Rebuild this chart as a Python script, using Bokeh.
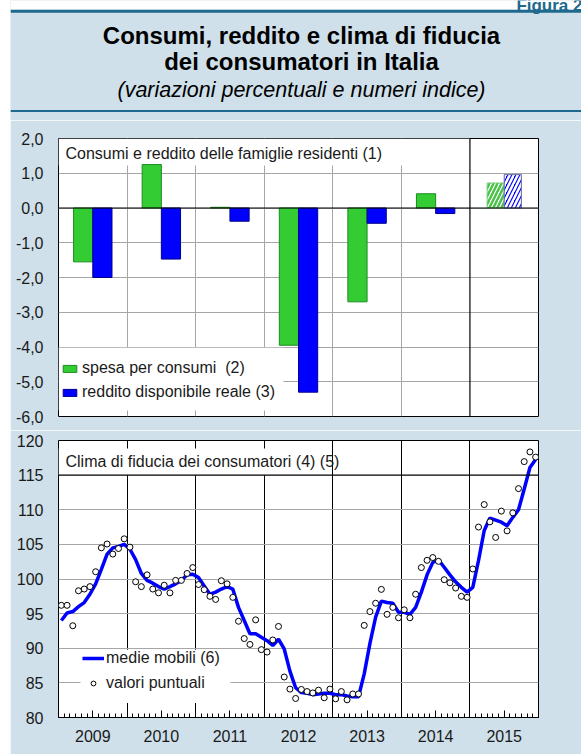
from bokeh.plotting import figure
from bokeh.models import FixedTicker, Label, Span, Legend, LegendItem, Grid, Spacer
from bokeh.layouts import column, row
from bokeh.embed import file_html
from bokeh.resources import INLINE

# ---------------- data ----------------
anni = ["2009", "2010", "2011", "2012", "2013", "2014", "2015"]
spesa = [-1.55, 1.25, 0.02, -3.95, -2.7, 0.41]          # spesa per consumi (2)
reddito = [-2.0, -1.47, -0.38, -5.3, -0.44, -0.16]      # reddito disponibile reale (3)
spesa_2015 = [0.72]
reddito_2015 = [0.96]
top_ticks = [-6, -5, -4, -3, -2, -1, 0, 1, 2]
top_tick_labels = ["-6,0", "-5,0", "-4,0", "-3,0", "-2,0", "-1,0", "0,0", "1,0", "2,0"]

valori_puntuali = [
    96.2, 96.2, 93.25, 98.3, 98.55, 98.9, 101.05, 104.5, 105.05, 103.6, 104.4, 105.8,
    104.6, 99.6, 98.9, 100.6, 98.55, 98.0, 99.1, 98.0, 99.8, 99.8, 100.8, 101.65,
    99.2, 98.45, 97.5, 97.05, 99.75, 99.3, 97.35, 93.9, 91.4, 90.55, 94.1, 89.8,
    89.45, 91.2, 93.15, 85.85, 84.1, 82.75, 84.05, 83.75, 83.55, 83.95, 82.85, 84.1,
    82.7, 83.75, 82.55, 83.4, 83.4, 93.3, 95.3, 96.5, 98.5, 94.9, 95.9, 94.4,
    95.55, 94.4, 97.8, 101.65, 102.7, 103.1, 102.55, 99.9, 99.45, 98.7, 97.5, 97.35,
    101.45, 107.5, 110.75, 108.25, 106.0, 109.8, 106.95, 109.55, 113.05, 116.95, 118.35, 117.6]
medie_mobili = [
    94.0, 95.1, 95.3, 96.0, 96.6, 97.8, 99.3, 101.4, 103.6, 104.5, 104.7, 105.0,
    104.3, 102.8, 100.8, 99.8, 99.4, 98.9, 98.55, 98.9, 99.3, 99.8, 100.6, 100.7,
    100.2, 99.0, 97.8, 98.1, 98.55, 98.9, 98.55, 95.9, 94.0, 92.1, 92.1, 91.6,
    91.1, 90.4, 91.3, 89.9, 86.7, 84.3, 83.6, 83.5, 83.3, 83.4, 83.5, 83.5,
    83.3, 83.3, 83.1, 83.0, 83.0, 86.3, 90.7, 94.5, 96.8, 96.6, 96.5, 95.2,
    95.2, 94.9, 95.9, 98.1, 100.6, 102.4, 102.75, 101.7, 100.6, 99.6, 98.8, 98.1,
    98.8, 102.65, 107.0, 108.8, 108.5, 108.2, 107.7, 108.9, 110.0, 113.0, 116.1, 117.25]
bot_ticks = [80, 85, 90, 95, 100, 105, 110, 115, 120]

# ---------------- style ----------------
BG = "#cfe0ea"
TEAL = "#1d6a8e"
FONT = "Liberation Sans"
TXT = "#1a1a1a"
GREEN = "#33cc33"
BLUE = "#0000ff"
GRID = "#a6a6a6"
W = 571          # figures start 10px from the left edge (white strip)
HH = 120

# ---------------- header ----------------
h = figure(width=W, height=HH, x_range=(0, W), y_range=(0, HH), output_backend="svg", title=None,
           toolbar_location=None, x_axis_type=None, y_axis_type=None, min_border=0)
h.grid.visible = False
h.outline_line_color = None
h.background_fill_color = BG
h.border_fill_color = BG
h.quad(left=0, right=W, bottom=110.7, top=HH, fill_color="white", line_color=None)
h.quad(left=0, right=W, bottom=107.7, top=110.7, fill_color=TEAL, line_color=None)
h.quad(left=0, right=W, bottom=8.6, top=10.6, fill_color=TEAL, line_color=None)
h.add_layout(Label(x=W + 1, y=HH - 5, text="Figura 2", text_align="right", text_baseline="alphabetic",
                   text_font=FONT, text_font_size="17px", text_font_style="bold", text_color=TEAL))
for txt, mid, size, style in [
    ("Consumi, reddito e clima di fiducia", 35, "24px", "bold"),
    ("dei consumatori in Italia", 61, "24px", "bold"),
    ("(variazioni percentuali e numeri indice)", 89, "21.5px", "italic"),
]:
    h.add_layout(Label(x=291, y=HH - mid, text=txt, text_align="center", text_baseline="middle",
                       text_font=FONT, text_font_size=size, text_font_style=style, text_color="black"))

# ---------------- top panel ----------------
p1 = figure(width=W, height=310, x_range=(0, 7), y_range=(-6, 2), output_backend="svg", title=None,
            toolbar_location=None, x_axis_type=None, min_border_left=48, min_border_right=43,
            min_border_top=18, min_border_bottom=14)
p1.background_fill_color = "white"
p1.border_fill_color = BG
p1.outline_line_color = "black"
p1.yaxis.ticker = FixedTicker(ticks=top_ticks)
p1.yaxis.major_label_overrides = {t: l for t, l in zip(top_ticks, top_tick_labels)}
p1.yaxis.major_tick_in = 0
p1.yaxis.major_tick_out = 0
p1.yaxis.minor_tick_in = 0
p1.yaxis.minor_tick_out = 0
p1.yaxis.axis_line_color = None
p1.yaxis.major_label_standoff = 15
p1.yaxis.major_label_text_font = FONT
p1.yaxis.major_label_text_font_size = "16px"
p1.yaxis.major_label_text_color = TXT
p1.ygrid.ticker = FixedTicker(ticks=top_ticks)
p1.ygrid.grid_line_color = GRID
p1.add_layout(Grid(dimension=0, ticker=FixedTicker(ticks=[1, 2, 3, 4, 5]), grid_line_color=GRID))

# white boxes behind the panel title and the legend
p1.quad(left=0, right=6, bottom=1.22, top=2, fill_color="white", line_color=None)
p1.quad(left=0, right=3.28, bottom=-5.83, top=-4.02, fill_color="white", line_color=None)

n = len(spesa)
xs_g = [i + 0.5 - 0.14 for i in range(n)]
xs_b = [i + 0.5 + 0.14 for i in range(n)]
rg = p1.vbar(x=xs_g, width=0.28, top=spesa, bottom=0, fill_color=GREEN, line_color="#1e8a1e", line_width=1)
rb = p1.vbar(x=xs_b, width=0.28, top=reddito, bottom=0, fill_color=BLUE, line_color="#00008b", line_width=1)
p1.vbar(x=[n + 0.5 - 0.125], width=0.25, top=spesa_2015, bottom=0, fill_color="white",
        hatch_pattern="/", hatch_color="#4cc24c", hatch_weight=2.5, hatch_scale=8, line_color="#7fcf7f")
p1.vbar(x=[n + 0.5 + 0.125], width=0.25, top=reddito_2015, bottom=0, fill_color=BLUE,
        hatch_pattern="/", hatch_color="white", hatch_weight=2.5, hatch_scale=8, line_color="#6a6aa8")

p1.add_layout(Span(location=0, dimension="width", line_color="black", line_width=1.2))
p1.add_layout(Span(location=6, dimension="height", line_color="black", line_width=1.2))

p1.add_layout(Label(x=0.102, y=1.568, text="Consumi e reddito delle famiglie residenti (1)",
                    text_font=FONT, text_font_size="16px", text_color=TXT, text_baseline="middle"))

leg1 = Legend(items=[LegendItem(label="spesa per consumi  (2)", renderers=[rg]),
                     LegendItem(label="reddito disponibile reale (3)", renderers=[rb])],
              location=(3, 12), margin=0, padding=0, spacing=0, label_height=24,
              glyph_width=17, glyph_height=9, label_standoff=4,
              label_text_font=FONT, label_text_font_size="16px", label_text_color=TXT,
              background_fill_alpha=0, border_line_color=None)
p1.add_layout(leg1)

for t, l in zip(top_ticks, top_tick_labels):
    p1.add_layout(Label(x=7 + 41 / 68.57, y=t, text=l, text_align="right", text_baseline="middle",
                        text_font=FONT, text_font_size="16px", text_color=TXT))

# ---------------- bottom panel ----------------
nm = len(valori_puntuali)
mesi = [i + 0.5 for i in range(nm)]
p2 = figure(width=W, height=324, x_range=(0, nm), y_range=(80, 120), output_backend="svg", title=None,
            toolbar_location=None, min_border_left=48, min_border_right=43,
            min_border_top=10, min_border_bottom=37)
p2.background_fill_color = "white"
p2.border_fill_color = BG
p2.outline_line_color = "black"

year_mid = [12 * k + 6 for k in range(len(anni))]
p2.xaxis.ticker = FixedTicker(ticks=year_mid, minor_ticks=list(range(0, nm + 1)))
p2.xaxis.major_label_overrides = {m: a for m, a in zip(year_mid, anni)}
p2.xaxis.major_tick_in = 7
p2.xaxis.major_tick_out = 0
p2.xaxis.minor_tick_in = 4
p2.xaxis.minor_tick_out = 0
p2.xaxis.major_tick_line_color = "black"
p2.xaxis.minor_tick_line_color = "black"
p2.xaxis.axis_line_color = "black"
p2.xaxis.major_label_standoff = 12
p2.xaxis.major_label_text_font = FONT
p2.xaxis.major_label_text_font_size = "16px"
p2.xaxis.major_label_text_color = TXT
p2.xgrid.ticker = FixedTicker(ticks=[12 * k for k in range(1, len(anni))])
p2.xgrid.grid_line_color = "black"
p2.xgrid.grid_line_alpha = 1

p2.yaxis.ticker = FixedTicker(ticks=bot_ticks)
p2.yaxis.major_tick_in = 0
p2.yaxis.major_tick_out = 0
p2.yaxis.minor_tick_in = 0
p2.yaxis.minor_tick_out = 0
p2.yaxis.axis_line_color = None
p2.yaxis.major_label_standoff = 15
p2.yaxis.major_label_text_font = FONT
p2.yaxis.major_label_text_font_size = "16px"
p2.yaxis.major_label_text_color = TXT
p2.ygrid.ticker = FixedTicker(ticks=[85, 90, 95, 100, 105, 110])
p2.ygrid.grid_line_color = GRID

p2.quad(left=0, right=40, bottom=115, top=118.85, fill_color="white", line_color=None)
p2.quad(left=3.85, right=30.1, bottom=82.1, top=89.8, fill_color="white", line_color=None)
p2.add_layout(Span(location=115, dimension="width", line_color="black", line_width=1.2))

rl = p2.line(x=mesi, y=medie_mobili, line_color=BLUE, line_width=3.5)
rp = p2.scatter(x=mesi, y=valori_puntuali, size=6, fill_color="white", line_color="black", line_width=1)

p2.add_layout(Label(x=1.225, y=116.97, text="Clima di fiducia dei consumatori (4) (5)",
                    text_font=FONT, text_font_size="16px", text_color=TXT, text_baseline="middle"))

leg2 = Legend(items=[LegendItem(label="medie mobili (6)", renderers=[rl]),
                     LegendItem(label="valori puntuali", renderers=[rp])],
              location=(24, 22), margin=0, padding=0, spacing=0, label_height=25,
              glyph_width=22, glyph_height=12, label_standoff=2,
              label_text_font=FONT, label_text_font_size="16px", label_text_color=TXT,
              background_fill_alpha=0, border_line_color=None)
p2.add_layout(leg2)

for t in bot_ticks:
    p2.add_layout(Label(x=nm + 16 / 5.714, y=t, text=str(t), text_align="left", text_baseline="middle",
                        text_font=FONT, text_font_size="16px", text_color=TXT))

layout = row(Spacer(width=10), column(h, column(p1, p2, spacing=0), spacing=0), spacing=0)
open("out.html", "w").write(file_html(layout, INLINE))
